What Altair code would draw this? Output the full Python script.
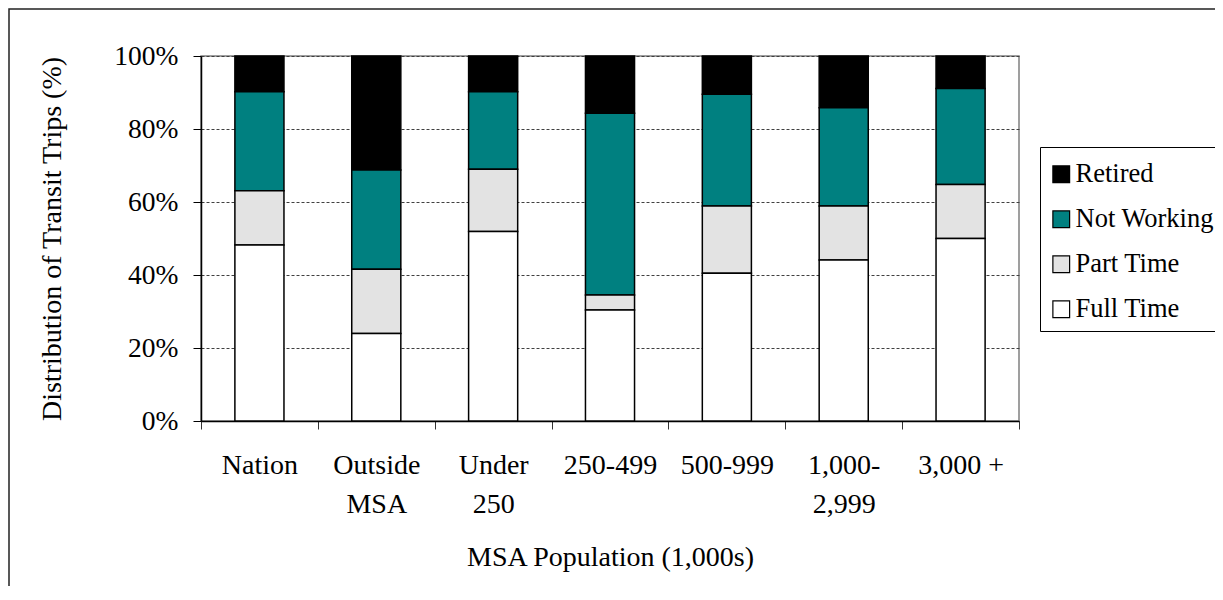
import altair as alt
import pandas as pd

categories = ["Nation", "Outside MSA", "Under 250", "250-499", "500-999", "1,000-2,999", "3,000 +"]
label_lines = {
    "Outside MSA": ["Outside", "MSA"],
    "Under 250": ["Under", "250"],
    "1,000-2,999": ["1,000-", "2,999"],
}
series = ["Retired", "Not Working", "Part Time", "Full Time"]
stack_rank = {"Full Time": 0, "Part Time": 1, "Not Working": 2, "Retired": 3}
colors = ["#000000", "#008080", "#E3E3E3", "#FFFFFF"]

full_time = [48.2, 24.0, 51.9, 30.4, 40.5, 44.1, 50.0]
part_time = [14.9, 17.6, 17.1, 4.1, 18.4, 14.8, 14.8]
not_working = [27.1, 27.2, 21.2, 49.8, 30.6, 26.9, 26.3]
retired = [9.8, 31.2, 9.8, 15.7, 10.5, 14.2, 8.9]
y_ticks = [0, 20, 40, 60, 80, 100]

values = {"Full Time": full_time, "Part Time": part_time,
          "Not Working": not_working, "Retired": retired}
rows = []
for s in series:
    for c, v in zip(categories, values[s]):
        rows.append({"category": c, "series": s, "value": v, "rank": stack_rank[s]})
df = pd.DataFrame(rows)

expr = "datum.value"
for k, parts in label_lines.items():
    arr = "[" + ",".join("'" + p + "'" for p in parts) + "]"
    expr = f"datum.value == '{k}' ? {arr} : ({expr})"

FONT = "Liberation Serif"

bars = alt.Chart(df).mark_bar(
    stroke="black", strokeWidth=1.5, width=alt.RelativeBandSize(0.42)
).encode(
    x=alt.X("category:N", sort=categories,
            scale=alt.Scale(paddingInner=0, paddingOuter=0),
            axis=alt.Axis(title="MSA Population (1,000s)", labelAngle=0, labelExpr=expr,
                          tickBand="extent", grid=False, tickSize=8, tickColor="#333333",
                          domainColor="black", domainWidth=1.5,
                          labelFont=FONT, titleFont=FONT,
                          labelFontSize=28, labelPadding=22, labelLineHeight=39,
                          titleFontSize=28, titleY=144, titleBaseline="alphabetic")),
    y=alt.Y("value:Q", stack="zero", scale=alt.Scale(domain=[0, 100], nice=False),
            axis=alt.Axis(title="Distribution of Transit Trips (%)", values=y_ticks,
                          labelExpr="datum.value + '%'", gridColor="#404040",
                          gridDash=[3, 2], gridWidth=1, tickSize=8, tickColor="black",
                          domainColor="black", domainWidth=1.5,
                          labelFont=FONT, titleFont=FONT,
                          labelFontSize=27.5, labelPadding=15,
                          titleFontSize=28, titleX=-141, titleBaseline="alphabetic")),
    color=alt.Color("series:N", scale=alt.Scale(domain=series, range=colors),
                    legend=alt.Legend(title=" ", titleFontSize=1, titlePadding=5,
                                      orient="none", legendX=839, legendY=91,
                                      strokeColor="black", fillColor="white", padding=8,
                                      symbolType="square", symbolSize=280,
                                      symbolStrokeColor="black", symbolStrokeWidth=1.2,
                                      labelFontSize=26.5, labelFont=FONT, rowPadding=18,
                                      labelOffset=1, labelColor="black")),
    order=alt.Order("rank:Q", sort="ascending"),
)

frame = alt.Chart(pd.DataFrame({"f": [0]})).mark_rect(
    fillOpacity=0, stroke="#222222", strokeWidth=1.5
).encode(x=alt.value(-192), x2=alt.value(1100), y=alt.value(-47), y2=alt.value(700))

chart = alt.layer(frame, bars).properties(
    width=818, height=365,
    autosize=alt.AutoSizeParams(type="none"),
    padding={"left": 193, "top": 48, "right": 196, "bottom": 165},
).configure(font=FONT).configure_view(stroke="#808080", strokeWidth=1.5).configure_axis(
    labelColor="black", titleColor="black", titleFontWeight="normal"
)

chart.save("out.html", embed_options={"renderer": "svg", "actions": False})
